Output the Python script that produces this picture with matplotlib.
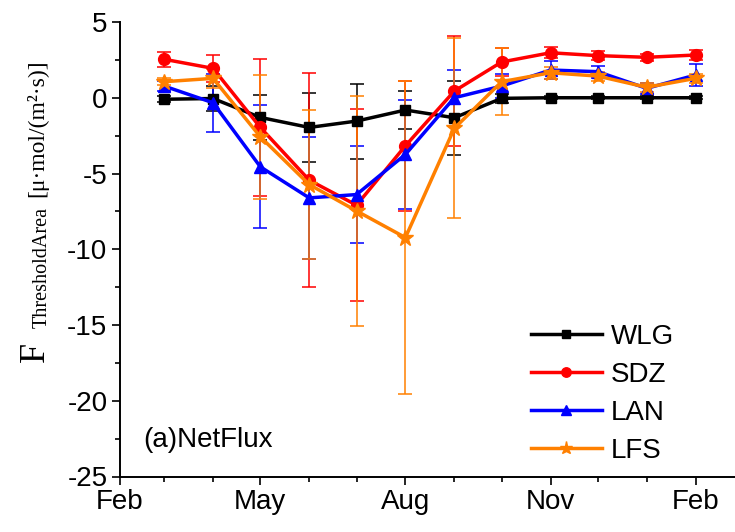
import numpy as np
import matplotlib
matplotlib.use("Agg")
import matplotlib.pyplot as plt
import matplotlib.dates as mdates
from matplotlib.ticker import MultipleLocator

plt.rcParams['axes.unicode_minus'] = False

months = np.array(['2014-03-01', '2014-04-01', '2014-05-01', '2014-06-01', '2014-07-01', '2014-08-01',
                   '2014-09-01', '2014-10-01', '2014-11-01', '2014-12-01', '2015-01-01', '2015-02-01'],
                  dtype='datetime64[D]')

wlg = [-0.1, -0.05, -1.3, -1.96, -1.54, -0.81, -1.32, -0.04, 0.0, 0.0, 0.0, 0.0]
wlg_err = [0.2, 0.8, 1.5, 2.28, 2.48, 1.25, 2.45, 0.3, 0.1, 0.1, 0.1, 0.1]
sdz = [2.54, 1.94, -1.96, -5.44, -7.09, -3.17, 0.44, 2.36, 2.97, 2.78, 2.67, 2.82]
sdz_err = [0.5, 0.9, 4.5, 7.05, 6.35, 4.3, 3.65, 0.95, 0.35, 0.3, 0.25, 0.35]
lan = [0.77, -0.33, -4.56, -6.61, -6.39, -3.74, 0.0, 0.77, 1.83, 1.72, 0.62, 1.5]
lan_err = [0.35, 1.9, 4.05, 4.03, 3.2, 3.6, 1.85, 0.8, 0.6, 0.4, 0.35, 0.75]
lfs = [1.06, 1.28, -2.58, -5.73, -7.47, -9.23, -2.02, 1.06, 1.65, 1.43, 0.69, 1.28]
lfs_err = [0.25, 0.65, 4.1, 4.9, 7.6, 10.35, 5.95, 2.2, 0.4, 0.3, 0.3, 0.3]

series = [
    ("WLG", wlg, wlg_err, "#000000", "s", 7.5),
    ("SDZ", sdz, sdz_err, "#ff0000", "o", 8.5),
    ("LAN", lan, lan_err, "#0000ff", "^", 9),
    ("LFS", lfs, lfs_err, "#ff8000", "*", 12),
]

W, H = 735, 532
fig = plt.figure(figsize=(W / 100, H / 100), dpi=100)
ax = fig.add_axes([120 / W, 1 - 476.5 / H, 615 / W, 454.5 / H])

xdates = months.astype(object)
conts = []
for name, y, e, c, m, ms in series:
    cont = ax.errorbar(xdates, y, yerr=e, color=c, marker=m,
                       ms=ms, lw=2.5, elinewidth=1.1, capsize=5, capthick=1.1, label=name)
    conts.append(cont)

ax.set_ylim(-25, 5)
ax.set_xlim(np.datetime64('2014-02-01').astype(object), np.datetime64('2015-02-26').astype(object))
ax.yaxis.set_major_locator(MultipleLocator(5))
ax.yaxis.set_minor_locator(MultipleLocator(2.5))
ax.xaxis.set_major_locator(mdates.MonthLocator(bymonth=[2, 5, 8, 11]))
ax.xaxis.set_minor_locator(mdates.MonthLocator())
ax.xaxis.set_major_formatter(mdates.DateFormatter('%b'))

for s in ['top', 'right']:
    ax.spines[s].set_visible(False)
for s in ['left', 'bottom']:
    ax.spines[s].set_linewidth(1.4)
ax.tick_params(which='major', length=6, width=1.2, direction='out', labelsize=20, pad=3)
ax.tick_params(which='minor', length=3.5, width=1.2, direction='out')
for lab in ax.get_xticklabels() + ax.get_yticklabels():
    lab.set_fontfamily('Liberation Sans')

ax.legend(handles=[c[0] for c in conts], labels=[s[0] for s in series], loc='center left',
          bbox_to_anchor=(0.668, 0.1817), frameon=False, borderpad=0, borderaxespad=0,
          handlelength=2.55, handletextpad=0.32, labelspacing=0.43, markerscale=0.8,
          prop={'family': 'Liberation Sans', 'size': 20})

ax.text(0.0374, 0.080, "(a)NetFlux", transform=ax.transAxes, fontsize=20,
        family='Liberation Sans', ha='left', va='center')

# y label pieces (rotated)
def ftext(px, py, s, size):
    fig.text(px / W, 1 - py / H, s, rotation=90, rotation_mode='anchor', ha='left', va='baseline',
             fontsize=size, family='Liberation Serif')

ftext(44, 362, "F", 26)
ftext(47, 328, "ThresholdArea", 14.5)
ftext(43, 197, "[μ·mol/(m²·s)]", 17)

fig.savefig("out.png", dpi=100)
